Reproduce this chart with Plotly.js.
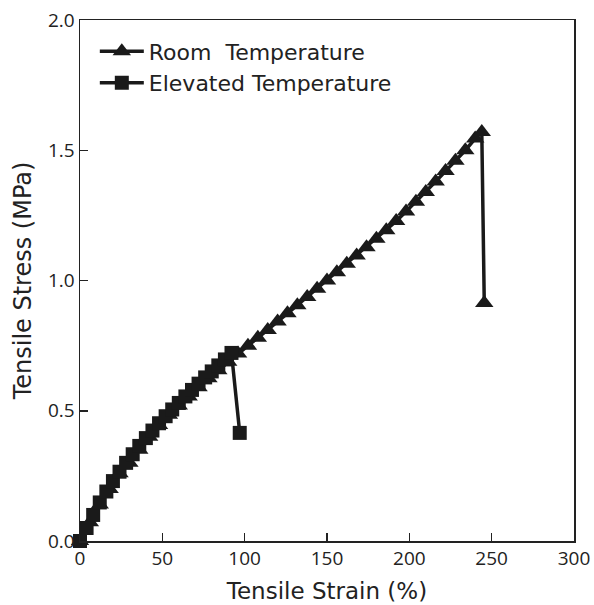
<!DOCTYPE html>
<html>
<head>
<meta charset="utf-8">
<script src="https://cdn.plot.ly/plotly-3.0.1.min.js"></script>
<style>html,body{margin:0;padding:0;background:#fff;}#chart{width:594px;height:605px;}</style>
</head>
<body>
<div id="chart"></div>
<script>
// Room Temperature series
var roomStrain = [0,6,12,18,24,30,36,42,48,54,60,66,72,78,84,90,96,102,108,114,120,126,132,138,144,150,156,162,168,174,180,186,192,198,204,210,216,222,228,234,240,244,245.5];
var roomStress = [0,0.072,0.14,0.20,0.26,0.30,0.35,0.40,0.445,0.485,0.52,0.555,0.59,0.625,0.655,0.688,0.72,0.75,0.78,0.81,0.843,0.874,0.905,0.937,0.968,1.0,1.032,1.064,1.096,1.128,1.16,1.193,1.228,1.265,1.302,1.34,1.38,1.42,1.46,1.50,1.545,1.57,0.914];
// Elevated Temperature series
var elevStrain = [0,4,8,12,16,20,24,28,32,36,40,44,48,52,56,60,64,68,72,76,80,84,88,92,97];
var elevStress = [0,0.05,0.10,0.148,0.19,0.23,0.266,0.30,0.333,0.365,0.395,0.424,0.452,0.479,0.505,0.53,0.555,0.58,0.604,0.628,0.651,0.674,0.697,0.722,0.415];
var xTicks = [0,50,100,150,200,250,300];
var yTicks = [0,0.5,1.0,1.5,2.0];
var yTickText = ["0.0","0.5","1.0","1.5","2.0"];

var tickFam = "Open Sans, Noto Sans, sans-serif";
var titleFam = "DejaVu Sans, sans-serif";
var traces = [
  {x: roomStrain, y: roomStress, name: "Room  Temperature", mode: "lines+markers",
   legendgroup: "a", cliponaxis: false,
   line: {color: "#1a1a1a", width: 3.5},
   marker: {symbol: "triangle-up", size: 16, color: "#1a1a1a"}},
  {x: elevStrain, y: elevStress, name: "Elevated Temperature", mode: "lines+markers",
   legendgroup: "b", cliponaxis: false,
   line: {color: "#1a1a1a", width: 3.5},
   marker: {symbol: "square", size: 14, color: "#1a1a1a"}}
];
var axisCommon = {
  showline: true, mirror: true, linecolor: "#222", linewidth: 1.5,
  ticks: "inside", ticklen: 8, tickwidth: 1.5, tickcolor: "#222",
  showgrid: false, zeroline: false,
  tickfont: {family: tickFam, size: 19, color: "#222"}
};
var layout = {
  width: 594, height: 605,
  margin: {l: 80, r: 20, t: 20, b: 64},
  paper_bgcolor: "#fff", plot_bgcolor: "#fff",
  showlegend: true,
  legend: {x: 0.03, y: 0.98, xanchor: "left", yanchor: "top",
           font: {family: titleFam, size: 22, color: "#222"},
           bgcolor: "rgba(0,0,0,0)", tracegroupgap: 0, itemwidth: 44},
  xaxis: Object.assign({}, axisCommon, {
    range: [0, 300], tickvals: xTicks,
    title: {text: "Tensile Strain (%)", font: {family: titleFam, size: 23, color: "#222"}, standoff: 12}
  }),
  yaxis: Object.assign({}, axisCommon, {
    range: [0, 2.0], tickvals: yTicks, ticktext: yTickText,
    title: {text: "Tensile Stress (MPa)", font: {family: titleFam, size: 24, color: "#222"}, standoff: 9}
  })
};
Plotly.newPlot("chart", traces, layout, {displayModeBar: false, staticPlot: true});
</script>
</body>
</html>
